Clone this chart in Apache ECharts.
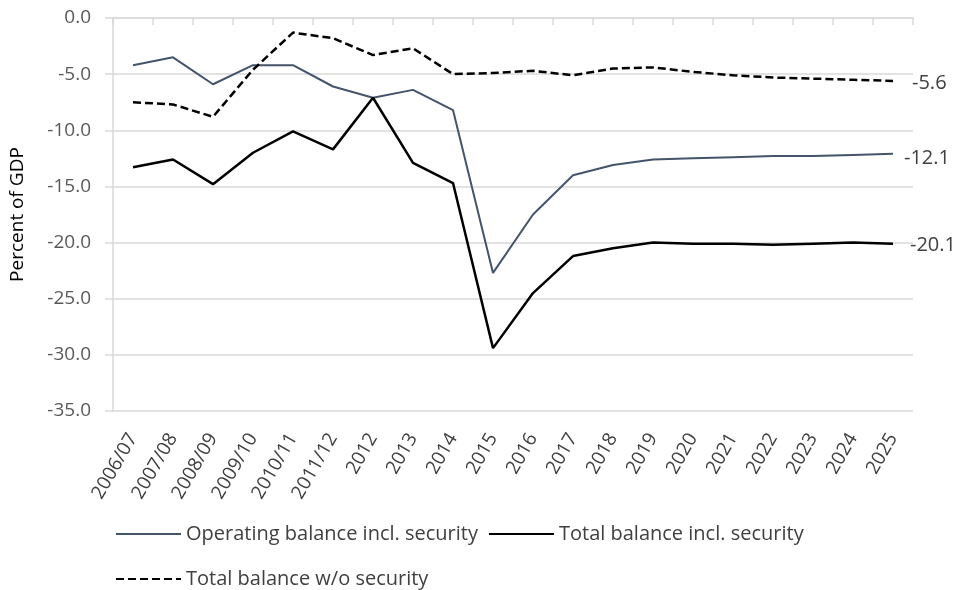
<!DOCTYPE html>
<html><head><meta charset="utf-8">
<script src="https://cdn.jsdelivr.net/npm/echarts@6/dist/echarts.min.js"></script>
<style>html,body{margin:0;padding:0;background:#fff}#c{width:958px;height:590px}</style>
</head><body><div id="c"></div>
<script>
const categories = ["2006/07","2007/08","2008/09","2009/10","2010/11","2011/12","2012","2013","2014","2015","2016","2017","2018","2019","2020","2021","2022","2023","2024","2025"];
const operatingBalance = [-4.2,-3.5,-5.9,-4.2,-4.2,-6.1,-7.1,-6.4,-8.2,-22.7,-17.5,-14.0,-13.1,-12.6,-12.5,-12.4,-12.3,-12.3,-12.2,-12.1];
const totalBalance = [-13.3,-12.6,-14.8,-12.0,-10.1,-11.7,-7.1,-12.9,-14.7,-29.4,-24.5,-21.2,-20.5,-20.0,-20.1,-20.1,-20.2,-20.1,-20.0,-20.1];
const totalBalanceWoSecurity = [-7.5,-7.7,-8.8,-4.6,-1.3,-1.8,-3.3,-2.7,-5.0,-4.9,-4.7,-5.1,-4.5,-4.4,-4.8,-5.1,-5.3,-5.4,-5.5,-5.6];
const yTicks = [0,-5,-10,-15,-20,-25,-30,-35];
const seriesNames = ["Operating balance incl. security","Total balance incl. security","Total balance w/o security"];

const FONT = "'Open Sans', 'Noto Sans', sans-serif";
const chart = echarts.init(document.getElementById('c'));
const endLbl = (dist, dy) => ({show:true, formatter: p => p.value.toFixed(1), color:'#404040', fontSize:20, fontFamily:FONT, distance:dist, offset:[0,dy]});
chart.setOption({
  animation:false,
  textStyle:{fontFamily:FONT},
  grid:{left:112, right:45, top:18, bottom:179},
  xAxis:[{
    type:'category', data:categories, position:'bottom', boundaryGap:true,
    axisLine:{show:false}, axisTick:{show:false},
    axisLabel:{rotate:60, interval:0, color:'#404040', fontSize:19, fontFamily:FONT, margin:24}
  },{
    type:'category', data:categories, position:'top', boundaryGap:true,
    axisLine:{show:true, lineStyle:{color:'#d9d9d9', width:1.5}},
    axisTick:{show:true, inside:true, length:7, interval:0, lineStyle:{color:'#d9d9d9', width:1.5}},
    axisLabel:{show:false}
  }],
  yAxis:{
    type:'value', min:yTicks[yTicks.length-1], max:yTicks[0], interval:5,
    name:'Percent of GDP', nameLocation:'middle', nameGap:86, nameRotate:90,
    nameTextStyle:{color:'#000', fontSize:19, fontFamily:FONT},
    axisLine:{show:true, lineStyle:{color:'#d9d9d9', width:1.5}},
    axisTick:{show:true, length:8, lineStyle:{color:'#d9d9d9', width:1.5}},
    axisLabel:{color:'#595959', fontSize:19, fontFamily:FONT, margin:22, formatter: v => v.toFixed(1)},
    splitLine:{show:true, lineStyle:{color:'#d9d9d9', width:1.5}}
  },
  legend:[{
    data:[seriesNames[0], seriesNames[1]], left:110, top:519, itemWidth:65, itemHeight:14, itemGap:10,
    itemStyle:{opacity:0}, textStyle:{color:'#404040', fontSize:20, fontFamily:FONT}
  },{
    data:[seriesNames[2]], left:110, top:564, itemWidth:65, itemHeight:14,
    itemStyle:{opacity:0}, textStyle:{color:'#404040', fontSize:20, fontFamily:FONT}
  }],
  series:[
    {name:seriesNames[0], type:'line', data:operatingBalance, symbol:'none', color:'#44546A',
     lineStyle:{color:'#44546A', width:2}, endLabel:endLbl(11,4)},
    {name:seriesNames[1], type:'line', data:totalBalance, symbol:'none', color:'#000',
     lineStyle:{color:'#000', width:2.5}, endLabel:endLbl(17,2)},
    {name:seriesNames[2], type:'line', data:totalBalanceWoSecurity, symbol:'none', color:'#000',
     lineStyle:{color:'#000', width:2.5, type:[8,4]}, endLabel:endLbl(19,2)}
  ]
});
</script></body></html>
